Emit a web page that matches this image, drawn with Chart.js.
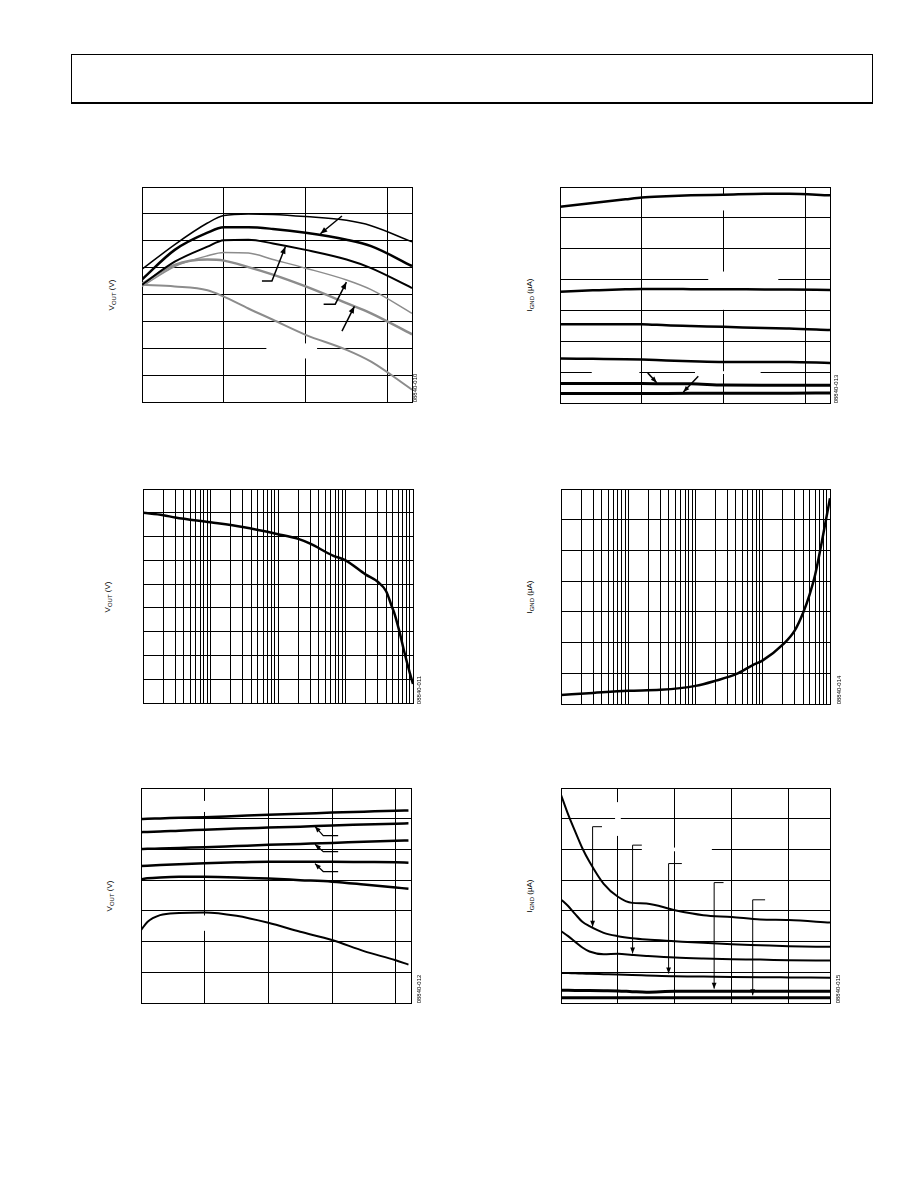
<!DOCTYPE html>
<html>
<head>
<meta charset="utf-8">
<title>Typical performance characteristics</title>
<script src="https://cdn.jsdelivr.net/npm/chart.js@4.4.1/dist/chart.umd.min.js"></script>
<style>
  body { margin: 0; background: #fff; }
  #page { position: relative; width: 918px; height: 1188px; overflow: hidden; font-family: "Liberation Sans", Arial, sans-serif; color: #000; }
  .header { position: absolute; left: 71px; top: 54px; width: 800px; height: 47px; border: 1px solid #000; border-bottom-width: 2px; }
  canvas { position: absolute; }
  .ytitle { position: absolute; width: 80px; height: 12px; line-height: 12px; font-size: 8px; text-align: center; transform: rotate(-90deg); white-space: nowrap; }
  .ytitle sub { font-size: 6px; vertical-align: -2px; }
  .figid { position: absolute; width: 40px; height: 8px; line-height: 8px; font-size: 6px; text-align: center; transform: rotate(-90deg); white-space: nowrap; }
</style>
</head>
<body>
<div id="page">
  <div class="header"></div>

  <canvas id="fig10"></canvas>
  <canvas id="fig13"></canvas>
  <canvas id="fig11"></canvas>
  <canvas id="fig14"></canvas>
  <canvas id="fig12"></canvas>
  <canvas id="fig15"></canvas>

  <div class="ytitle" style="left:72px;top:289px">V<sub>OUT</sub> (V)</div>
  <div class="ytitle" style="left:490px;top:289px">I<sub>GND</sub> (µA)</div>
  <div class="ytitle" style="left:68px;top:591px">V<sub>OUT</sub> (V)</div>
  <div class="ytitle" style="left:490px;top:591px">I<sub>GND</sub> (µA)</div>
  <div class="ytitle" style="left:70px;top:890px">V<sub>OUT</sub> (V)</div>
  <div class="ytitle" style="left:490px;top:890px">I<sub>GND</sub> (µA)</div>

  <div class="figid" style="left:395px;top:384px">08840-010</div>
  <div class="figid" style="left:816px;top:385px">08840-013</div>
  <div class="figid" style="left:399px;top:686px">08840-011</div>
  <div class="figid" style="left:819px;top:686px">08840-014</div>
  <div class="figid" style="left:399px;top:985px">08840-012</div>
  <div class="figid" style="left:818px;top:985px">08840-015</div>
</div>

<script>
// ---- data ----

// Fig 10: VOUT vs junction temperature
const tempC = [-40, -20, 0, 10, 25, 40, 60, 85, 100, 125];
const tempGrid = [-40, 10, 60, 110, 125];
const vout10Grid = [3.280, 3.285, 3.290, 3.295, 3.300, 3.305, 3.310, 3.315, 3.320];
const vout10A = [3.3047, 3.3093, 3.3133, 3.3147, 3.3150, 3.3149, 3.3145, 3.3138, 3.3128, 3.3098];
const vout10B = [3.3028, 3.3083, 3.3115, 3.3125, 3.3125, 3.3122, 3.3115, 3.3102, 3.3090, 3.3053];
const vout10C = [3.3018, 3.3061, 3.3089, 3.3101, 3.3102, 3.3095, 3.3083, 3.3065, 3.3049, 3.3012];
const vout10D = [3.3015, 3.3052, 3.3072, 3.3078, 3.3077, 3.3065, 3.3049, 3.3027, 3.3009, 3.2965];
const vout10E = [3.3020, 3.3055, 3.3065, 3.3063, 3.3051, 3.3037, 3.3015, 3.2984, 3.2965, 3.2926];
const vout10F = [3.3018, 3.3015, 3.3008, 3.2996, 3.2974, 3.2953, 3.2925, 3.2897, 3.2875, 3.2823];

// Fig 13: IGND vs junction temperature
const ignd13Grid = [0, 50, 100, 150, 200, 250, 300, 350];
const ignd13A = [318, 324, 330, 333, 335, 336.5, 337.5, 339, 339, 336.5];
const ignd13B = [180.4, 182.5, 184.3, 184.7, 184.7, 184.5, 184.2, 184.1, 184, 183];
const ignd13C = [127.8, 127.8, 127.8, 127.8, 125.8, 124.6, 123.5, 121.4, 120.8, 118.1];
const ignd13D = [72, 71.5, 71, 70.4, 69, 67.8, 66.6, 66.6, 66.5, 65];
const ignd13E = [31.4, 31.4, 31.4, 31.4, 31.2, 31, 29, 28.7, 28.7, 28.7];
const ignd13F = [15.2, 15.2, 15.4, 15.4, 15.5, 15.6, 15.8, 16, 16, 16.2];

// Fig 11: VOUT vs load current (log)
const decades = [0.01, 0.1, 1, 10];
const mantissas = [1, 2, 3, 4, 5, 6, 7, 8, 9];
const load11 = [0.01, 0.02, 0.03, 0.1, 0.3, 1, 2, 3, 6.5, 10, 20, 30, 40, 48, 54, 63, 75, 89, 100];
const vout11 = [3.290, 3.289, 3.288, 3.286, 3.284, 3.281, 3.279, 3.277, 3.272, 3.270, 3.264, 3.261, 3.257, 3.251, 3.247, 3.240, 3.231, 3.223, 3.218];
const vout11Grid = [3.21, 3.22, 3.23, 3.24, 3.25, 3.26, 3.27, 3.28, 3.29, 3.30];

// Fig 14: IGND vs load current (log)
const load14 = [0.01, 0.03, 0.1, 0.3, 1, 2, 4, 7, 10, 20, 30, 40, 50, 60, 75, 100];
const ignd14 = [14.5, 18, 21.5, 23, 29.5, 38, 48.5, 63, 71, 97, 120, 149, 179, 210, 262, 335];

// Fig 12: VOUT vs input voltage
const vin12 = [3.4, 3.45, 3.55, 3.7, 3.9, 4.15, 4.4, 4.65, 4.9, 5.15, 5.4, 5.5];
const vin12Grid = [3.4, 3.9, 4.4, 4.9, 5.4, 5.52];
const vout12Grid = [3.26, 3.27, 3.28, 3.29, 3.30, 3.31, 3.32, 3.33];
const vout12A = [3.3199, 3.3200, 3.3201, 3.3203, 3.3205, 3.3209, 3.3213, 3.3216, 3.3220, 3.3223, 3.3226, 3.3227];
const vout12B = [3.3156, 3.3157, 3.3158, 3.3161, 3.3164, 3.3168, 3.3171, 3.3174, 3.3178, 3.3181, 3.3184, 3.3185];
const vout12C = [3.3101, 3.3102, 3.3103, 3.3105, 3.3107, 3.3111, 3.3115, 3.3118, 3.3121, 3.3125, 3.3128, 3.3129];
const vout12D = [3.3046, 3.3047, 3.3049, 3.3052, 3.3055, 3.3058, 3.3060, 3.3060, 3.3060, 3.3059, 3.3058, 3.3057];
const vout12E = [3.3003, 3.3006, 3.3009, 3.3011, 3.3011, 3.3009, 3.3005, 3.3000, 3.2995, 3.2986, 3.2976, 3.2972];
const vout12F = [3.2837, 3.2864, 3.2886, 3.2893, 3.2895, 3.2884, 3.2861, 3.2832, 3.2805, 3.2769, 3.2739, 3.2725];

// Fig 15: IGND vs input voltage
const vin15 = [3.6, 3.65, 3.7, 3.75, 3.8, 3.9, 4.0, 4.1, 4.2, 4.4, 4.6, 4.8, 5.0, 5.2, 5.49];
const vin15Grid = [3.6, 4.0, 4.4, 4.8, 5.2, 5.49];
const ignd15A = [339, 307, 279, 252, 230, 194, 173, 163, 162, 151, 143, 140, 136, 135, 131];
const ignd15B = [168.7, 157.8, 144.7, 132.2, 125.1, 114.2, 108.8, 105.5, 103.4, 100.6, 97.9, 95.7, 94.1, 92.5, 91.4];
const ignd15C = [117, 108.8, 99.5, 90.3, 83.8, 79.4, 80, 78.3, 76.7, 74, 72.4, 71.3, 70.7, 69.6, 69.1];
const ignd15D = [49, 48.7, 48.3, 48, 47.6, 46.9, 46.2, 45.6, 44.9, 43.5, 43, 42.4, 42, 41.7, 41.3];
const ignd15E = [20.7, 20.6, 20.5, 20.4, 20.3, 20, 19.6, 18.5, 17.6, 19, 19, 19, 19, 19, 19];
const ignd15F = [8.7, 8.7, 8.7, 8.7, 8.7, 8.7, 8.7, 8.7, 8.7, 8.7, 8.7, 8.7, 8.7, 8.7, 8.7];

// leader arrows (data coords, last point is the tip) and blank label areas [x1, x2, y1, y2]
const arrows10 = [
  [[82.2, 3.3146], [69.0, 3.3113]],
  [[33.3, 3.3025], [39.4, 3.3025], [47.6, 3.3089]],
  [[71.0, 3.2982], [78.1, 3.2982], [84.9, 3.3023]],
  [[82.2, 3.2932], [89.8, 3.2978]]
];
const blanks10 = [[36, 67, 3.2881, 3.2909]];
const arrows13 = [
  [[13.6, 48.8], [19.1, 33]],
  [[44.5, 43.3], [35.4, 17.9]]
];
const blanks13 = [[50.6, 93.4, 190, 207], [58, 62, 151, 213], [58, 62, 312, 336], [-20.6, 8.5, 47, 51.5], [42.5, 82.6, 47, 51.5]];
const arrows12 = [
  [[4.948, 3.3145], [4.831, 3.3145], [4.766, 3.3175]],
  [[4.948, 3.3093], [4.831, 3.3093], [4.766, 3.3117]],
  [[4.948, 3.3028], [4.831, 3.3028], [4.766, 3.3054]]
];
const blanks12 = [[3.89, 3.92, 3.2835, 3.2885], [3.89, 3.92, 3.3222, 3.3258]];
const arrows15 = [
  [[3.888, 287], [3.822, 287], [3.822, 124]],
  [[4.168, 257], [4.103, 257], [4.103, 80.5]],
  [[4.449, 227], [4.356, 227], [4.356, 48]],
  [[4.742, 196], [4.676, 196], [4.676, 23.4]],
  [[5.034, 168], [4.947, 168], [4.947, 12.5]]
];
const blanks15 = [[3.98, 4.02, 272, 327], [4.168, 4.66, 247, 253]];

// ---- drawing ----

const BLACK = '#000';
const GRAY = '#8c8c8c';
const PAD = 8;
const logGrid = decades.flatMap(d => mantissas.map(m => +(d * m).toPrecision(3))).concat([100]);

function axis(type, min, max, grid) {
    return {
        type: type,
        min: min,
        max: max,
        afterBuildTicks: scale => { scale.ticks = grid.map(v => ({ value: v })); },
        ticks: { display: false },
        grid: { color: BLACK, lineWidth: 1, drawTicks: false },
        border: { color: BLACK, width: 1 }
    };
}

function series(xs, ys, color, width) {
    return {
        data: xs.map((x, i) => ({ x: x, y: ys[i] })),
        borderColor: color,
        borderWidth: width,
        pointRadius: 0,
        fill: false,
        cubicInterpolationMode: 'monotone'
    };
}

function extras(blanks, arrows, headLen, lineW) {
    return {
        id: 'extras',
        beforeDatasetsDraw(chart) {
            const { ctx, scales: { x, y } } = chart;
            ctx.save();
            ctx.fillStyle = '#fff';
            blanks.forEach(b => {
                const x1 = x.getPixelForValue(b[0]), x2 = x.getPixelForValue(b[1]);
                const y1 = y.getPixelForValue(b[3]), y2 = y.getPixelForValue(b[2]);
                ctx.fillRect(x1, y1, x2 - x1, y2 - y1);
            });
            ctx.restore();
        },
        afterDatasetsDraw(chart) {
            const { ctx, scales: { x, y } } = chart;
            ctx.save();
            ctx.strokeStyle = BLACK;
            ctx.fillStyle = BLACK;
            ctx.lineWidth = lineW;
            arrows.forEach(a => {
                const pts = a.map(p => [x.getPixelForValue(p[0]), y.getPixelForValue(p[1])]);
                ctx.beginPath();
                ctx.moveTo(pts[0][0], pts[0][1]);
                for (let i = 1; i < pts.length; i++) ctx.lineTo(pts[i][0], pts[i][1]);
                ctx.stroke();
                const [x1, y1] = pts[pts.length - 2];
                const [x2, y2] = pts[pts.length - 1];
                const ang = Math.atan2(y2 - y1, x2 - x1);
                const w = headLen * 0.4;
                ctx.beginPath();
                ctx.moveTo(x2, y2);
                ctx.lineTo(x2 - headLen * Math.cos(ang) + w * Math.sin(ang), y2 - headLen * Math.sin(ang) - w * Math.cos(ang));
                ctx.lineTo(x2 - headLen * Math.cos(ang) - w * Math.sin(ang), y2 - headLen * Math.sin(ang) + w * Math.cos(ang));
                ctx.closePath();
                ctx.fill();
            });
            ctx.restore();
        }
    };
}

function makePlot(id, box, xAxis, yAxis, datasets, plugin) {
    const canvas = document.getElementById(id);
    canvas.width = box.w + PAD * 2;
    canvas.height = box.h + PAD * 2;
    canvas.style.left = (box.left - PAD) + 'px';
    canvas.style.top = (box.top - PAD) + 'px';
    return new Chart(canvas.getContext('2d'), {
        type: 'line',
        data: { datasets: datasets },
        options: {
            responsive: false,
            animation: false,
            events: [],
            layout: { padding: PAD },
            plugins: { legend: { display: false }, tooltip: { enabled: false } },
            scales: { x: xAxis, y: yAxis }
        },
        plugins: [plugin]
    });
}

makePlot('fig10', { left: 142, top: 187, w: 270, h: 215 },
    axis('linear', -40, 125, tempGrid),
    axis('linear', 3.280, 3.320, vout10Grid),
    [
        series(tempC, vout10A, BLACK, 1.5),
        series(tempC, vout10B, BLACK, 2.5),
        series(tempC, vout10C, BLACK, 2),
        series(tempC, vout10D, GRAY, 1.5),
        series(tempC, vout10E, GRAY, 2.5),
        series(tempC, vout10F, GRAY, 2)
    ],
    extras(blanks10, arrows10, 7, 1.5));

makePlot('fig13', { left: 560, top: 187, w: 270, h: 216 },
    axis('linear', -40, 125, tempGrid),
    axis('linear', 0, 350, ignd13Grid),
    [
        series(tempC, ignd13A, BLACK, 2.5),
        series(tempC, ignd13B, BLACK, 2.5),
        series(tempC, ignd13C, BLACK, 2.5),
        series(tempC, ignd13D, BLACK, 2.5),
        series(tempC, ignd13E, BLACK, 3),
        series(tempC, ignd13F, BLACK, 3)
    ],
    extras(blanks13, arrows13, 6, 1.5));

makePlot('fig11', { left: 143, top: 489, w: 270, h: 214 },
    axis('logarithmic', 0.01, 100, logGrid),
    axis('linear', 3.21, 3.30, vout11Grid),
    [series(load11, vout11, BLACK, 2.5)],
    extras([], [], 0, 1));

makePlot('fig14', { left: 561, top: 489, w: 269, h: 215 },
    axis('logarithmic', 0.01, 100, logGrid),
    axis('linear', 0, 350, ignd13Grid),
    [series(load14, ignd14, BLACK, 2.5)],
    extras([], [], 0, 1));

makePlot('fig12', { left: 141, top: 788, w: 270, h: 215 },
    axis('linear', 3.4, 5.52, vin12Grid),
    axis('linear', 3.26, 3.33, vout12Grid),
    [
        series(vin12, vout12A, BLACK, 2.5),
        series(vin12, vout12B, BLACK, 2.5),
        series(vin12, vout12C, BLACK, 2.5),
        series(vin12, vout12D, BLACK, 2.5),
        series(vin12, vout12E, BLACK, 2.5),
        series(vin12, vout12F, BLACK, 2)
    ],
    extras(blanks12, arrows12, 6, 1.2));

makePlot('fig15', { left: 561, top: 788, w: 269, h: 215 },
    axis('linear', 3.6, 5.49, vin15Grid),
    axis('linear', 0, 350, ignd13Grid),
    [
        series(vin15, ignd15A, BLACK, 2),
        series(vin15, ignd15B, BLACK, 2),
        series(vin15, ignd15C, BLACK, 2),
        series(vin15, ignd15D, BLACK, 2),
        series(vin15, ignd15E, BLACK, 3),
        series(vin15, ignd15F, BLACK, 3)
    ],
    extras(blanks15, arrows15, 6, 1));
</script>
</body>
</html>
